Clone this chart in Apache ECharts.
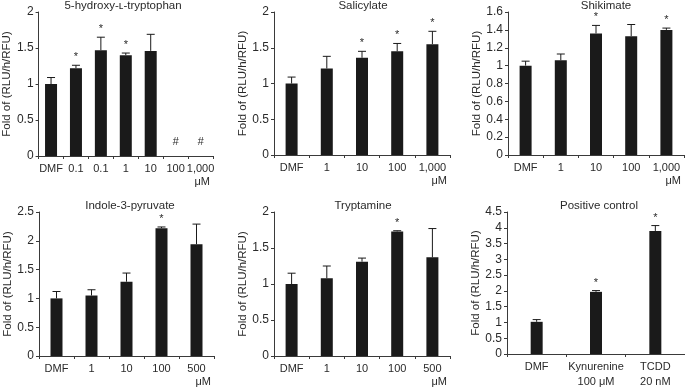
<!DOCTYPE html>
<html>
<head>
<meta charset="utf-8">
<script src="https://cdn.jsdelivr.net/npm/echarts@6/dist/echarts.min.js"></script>
<style>
  html, body { margin: 0; padding: 0; background: #fff; }
  #main { width: 685px; height: 389px; }
</style>
</head>
<body>
<div id="main"></div>
<script>
  // panel data: mean, SD (upper whisker only), significance marks
  var hydroxyCats = ['DMF', '0.1', '0.1', '1', '10', '100', '1,000'];
  var hydroxyMean = [1.00, 1.22, 1.47, 1.40, 1.46, null, null];
  var hydroxySd = [0.09, 0.04, 0.18, 0.03, 0.23, null, null];
  var hydroxyMark = ['', '*', '*', '*', '', '#', '#'];

  var salicylateCats = ['DMF', '1', '10', '100', '1,000'];
  var salicylateMean = [1.00, 1.21, 1.36, 1.45, 1.55];
  var salicylateSd = [0.09, 0.17, 0.09, 0.11, 0.18];
  var salicylateMark = ['', '', '*', '*', '*'];

  var shikimateCats = ['DMF', '1', '10', '100', '1,000'];
  var shikimateMean = [1.00, 1.06, 1.36, 1.33, 1.40];
  var shikimateSd = [0.05, 0.07, 0.09, 0.13, 0.02];
  var shikimateMark = ['', '', '*', '', '*'];

  var indoleCats = ['DMF', '1', '10', '100', '500'];
  var indoleMean = [1.00, 1.05, 1.29, 2.22, 1.94];
  var indoleSd = [0.12, 0.10, 0.15, 0.02, 0.35];
  var indoleMark = ['', '', '', '*', ''];

  var tryptamineCats = ['DMF', '1', '10', '100', '500'];
  var tryptamineMean = [1.00, 1.08, 1.31, 1.73, 1.37];
  var tryptamineSd = [0.15, 0.17, 0.05, 0.01, 0.40];
  var tryptamineMark = ['', '', '', '*', ''];

  var controlCats = ['DMF', 'Kynurenine\n100 \u03bcM', 'TCDD\n20 nM'];
  var controlMean = [1.02, 1.97, 3.90];
  var controlSd = [0.07, 0.04, 0.17];
  var controlMark = ['', '*', '*'];

  var font = '"Liberation Sans", Arial, sans-serif';
  var textColor = '#2a2a2a';
  var axisColor = '#3a3a3a';

  var panels = [
    { title: '5-hydroxy-\u029f-tryptophan', cats: hydroxyCats, mean: hydroxyMean, sd: hydroxySd, mark: hydroxyMark,
      unit: '\u03bcM', max: 2, interval: 0.5, grid: { left: 38, top: 12, width: 175, height: 144 }, titleX: 123 },
    { title: 'Salicylate', cats: salicylateCats, mean: salicylateMean, sd: salicylateSd, mark: salicylateMark,
      unit: '\u03bcM', max: 2, interval: 0.5, grid: { left: 274, top: 12, width: 176, height: 143 }, titleX: 363 },
    { title: 'Shikimate', cats: shikimateCats, mean: shikimateMean, sd: shikimateSd, mark: shikimateMark,
      unit: '\u03bcM', max: 1.6, interval: 0.2, grid: { left: 508, top: 12, width: 176, height: 143 }, titleX: 606 },
    { title: 'Indole-3-pyruvate', cats: indoleCats, mean: indoleMean, sd: indoleSd, mark: indoleMark,
      unit: '\u03bcM', max: 2.5, interval: 0.5, grid: { left: 39, top: 212, width: 175, height: 144 }, titleX: 130 },
    { title: 'Tryptamine', cats: tryptamineCats, mean: tryptamineMean, sd: tryptamineSd, mark: tryptamineMark,
      unit: '\u03bcM', max: 2, interval: 0.5, grid: { left: 274, top: 212, width: 176, height: 144 }, titleX: 363 },
    { title: 'Positive control', cats: controlCats, mean: controlMean, sd: controlSd, mark: controlMark,
      unit: '', max: 4.5, interval: 0.5, grid: { left: 507, top: 212, width: 181, height: 143 }, titleX: 599 }
  ];

  function makeErrRenderer(p) {
    return function (params, api) {
      var idx = params.dataIndex;
      var mean = p.mean[idx];
      var sd = p.sd[idx];
      var mark = p.mark[idx];
      var children = [];
      if (mean == null) {
        if (mark) {
          var base = api.coord([idx, 0]);
          children.push({ type: 'text', style: { text: mark, x: base[0], y: base[1] - 14,
            align: 'center', verticalAlign: 'middle', font: 'italic 11px ' + font, fill: textColor } });
        }
        return { type: 'group', children: children };
      }
      var lo = api.coord([idx, mean]);
      var hi = api.coord([idx, mean + sd]);
      var st = { stroke: '#1a1a1a', lineWidth: 1 };
      children.push({ type: 'line', shape: { x1: lo[0], y1: lo[1], x2: hi[0], y2: hi[1] }, style: st });
      children.push({ type: 'line', shape: { x1: hi[0] - 4, y1: hi[1], x2: hi[0] + 4, y2: hi[1] }, style: st });
      if (mark) {
        children.push({ type: 'text', style: { text: mark, x: hi[0], y: hi[1] - 8,
          align: 'center', verticalAlign: 'middle', font: '11px ' + font, fill: textColor } });
      }
      return { type: 'group', children: children };
    };
  }

  var option = { animation: false, title: [], grid: [], xAxis: [], yAxis: [], series: [] };

  panels.forEach(function (p, i) {
    option.title.push({ text: p.title, left: p.titleX, top: p.grid.top - 12, textAlign: 'center', padding: 0,
      textStyle: { fontFamily: font, fontSize: 11.5, fontWeight: 'normal', color: textColor } });
    option.grid.push(p.grid);
    option.xAxis.push({
      type: 'category', gridIndex: i, data: p.cats,
      name: p.unit, nameLocation: 'end', nameGap: -3,
      nameTextStyle: { fontFamily: font, fontSize: 11, color: textColor, align: 'right', verticalAlign: 'top', padding: [20, 0, 0, 0] },
      axisLine: { lineStyle: { color: axisColor, width: 1 } },
      axisTick: { show: true, length: 3, interval: 0, lineStyle: { color: axisColor } },
      axisLabel: { interval: 0, fontFamily: font, fontSize: 11, color: textColor, margin: 5, lineHeight: 15 }
    });
    option.yAxis.push({
      type: 'value', gridIndex: i, min: 0, max: p.max, interval: p.interval,
      name: 'Fold of (RLU/h/RFU)', nameLocation: 'middle', nameGap: 24,
      nameTextStyle: { fontFamily: font, fontSize: 11.5, color: textColor },
      axisLine: { show: true, lineStyle: { color: axisColor, width: 1 } },
      axisTick: { show: true, length: 3, lineStyle: { color: axisColor } },
      axisLabel: { fontFamily: font, fontSize: 12, color: textColor, margin: 5 },
      splitLine: { show: false }
    });
    option.series.push({
      type: 'bar', xAxisIndex: i, yAxisIndex: i, data: p.mean, barWidth: 12,
      itemStyle: { color: '#1a1a1a' }
    });
    option.series.push({
      type: 'custom', xAxisIndex: i, yAxisIndex: i, renderItem: makeErrRenderer(p),
      data: p.cats.map(function (c, k) { return [k, p.mean[k] == null ? 0 : p.mean[k]]; }),
      z: 3
    });
  });

  var chart = echarts.init(document.getElementById('main'));
  chart.setOption(option);
</script>
</body>
</html>
